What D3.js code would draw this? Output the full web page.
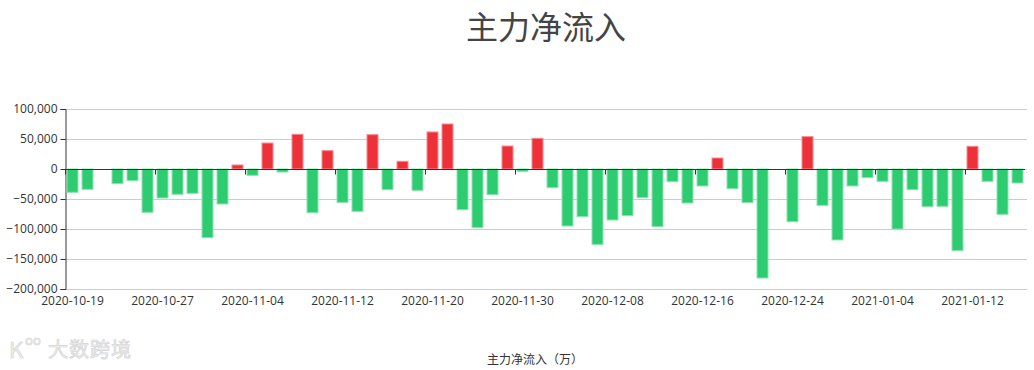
<!DOCTYPE html>
<html><head><meta charset="utf-8">
<script src="https://cdn.jsdelivr.net/npm/d3@7/dist/d3.min.js"></script>
<style>
html,body{margin:0;padding:0;background:#fff;}
svg{display:block;}
</style></head>
<body>
<svg id="chart" width="1034" height="370"></svg>
<script>
const title = "主力净流入";
const axisName = "主力净流入（万）";
const dates = [
"2020-10-19","2020-10-20","2020-10-21","2020-10-22","2020-10-23",
"2020-10-26","2020-10-27","2020-10-28","2020-10-29","2020-10-30",
"2020-11-02","2020-11-03","2020-11-04","2020-11-05","2020-11-06",
"2020-11-09","2020-11-10","2020-11-11","2020-11-12","2020-11-13",
"2020-11-16","2020-11-17","2020-11-18","2020-11-19","2020-11-20",
"2020-11-23","2020-11-24","2020-11-25","2020-11-26","2020-11-27",
"2020-11-30","2020-12-01","2020-12-02","2020-12-03","2020-12-04",
"2020-12-07","2020-12-08","2020-12-09","2020-12-10","2020-12-11",
"2020-12-14","2020-12-15","2020-12-16","2020-12-17","2020-12-18",
"2020-12-21","2020-12-22","2020-12-23","2020-12-24","2020-12-25",
"2020-12-28","2020-12-29","2020-12-30","2020-12-31",
"2021-01-04","2021-01-05","2021-01-06","2021-01-07","2021-01-08",
"2021-01-11","2021-01-12","2021-01-13","2021-01-14","2021-01-15"
];
const values = [
-38900,-33900,0,-24400,-19400,
-72200,-48300,-42200,-40600,-114400,
-58300,6700,-10600,43300,-5000,
57800,-72800,30600,-55600,-70600,
57200,-34400,12800,-35600,61700,
75000,-67800,-97800,-42800,38300,
-3900,51100,-31100,-95000,-79400,
-125600,-85000,-77800,-47800,-96100,
-21100,-56700,-28300,18300,-32800,
-56100,-181700,0,-87800,53900,
-60600,-118300,-28300,-14400,
-20600,-100000,-34400,-62800,-62200,
-136100,37800,-20600,-75600,-23300
];
const yTicks = [100000,50000,0,-50000,-100000,-150000,-200000];
const labelEvery = 6;

const svg = d3.select("#chart");
const pLeft = 65, pRight = 1025, pTop = 109, pBottom = 289;

const x = d3.scaleBand().domain(dates).range([pLeft, pRight]).paddingInner(0.2).paddingOuter(0.1);
const xb = d3.scaleBand().domain(dates).range([pLeft, pRight]);
const y = d3.scaleLinear().domain([-200000, 100000]).range([pBottom, pTop]);

// grid
svg.append("g").selectAll("line").data(yTicks).join("line")
  .attr("x1", pLeft).attr("x2", pRight + 2)
  .attr("y1", d => Math.round(y(d)) + 0.5).attr("y2", d => Math.round(y(d)) + 0.5)
  .attr("stroke", "#ccc").attr("stroke-width", 1);

// y axis
const yAxis = svg.append("g").attr("transform", `translate(${pLeft + 0.5},0)`)
  .call(d3.axisLeft(y).tickValues(yTicks).tickSize(5).tickFormat(d3.format(",")));
yAxis.select(".domain").attr("stroke", "#333");
yAxis.selectAll(".tick line").attr("stroke", "#333");
yAxis.selectAll("text").attr("fill", "#333").attr("font-size", 12)
  .attr("font-family", "'Open Sans','Noto Sans',sans-serif").attr("x", -8);

// bars
svg.append("g").selectAll("rect").data(dates.map((d, i) => ({d, v: values[i]}))).join("rect")
  .attr("x", d => x(d.d) + 0.5)
  .attr("width", x.bandwidth() - 1)
  .attr("y", d => d.v >= 0 ? y(d.v) : y(0))
  .attr("height", d => Math.abs(y(d.v) - y(0)))
  .attr("fill", d => d.v >= 0 ? "#ee3139" : "#2ecc71")
  .attr("stroke", d => d.v >= 0 ? "#f58a8f" : "#8be3b0")
  .attr("stroke-width", 1);

// x axis on zero
const xAxisG = svg.append("g").attr("transform", `translate(0,${Math.round(y(0)) + 0.5})`);
xAxisG.append("line").attr("x1", pLeft).attr("x2", pRight).attr("y1", 0).attr("y2", 0)
  .attr("stroke", "#333");
const tickIdx = d3.range(0, dates.length + 1, labelEvery);
xAxisG.selectAll("line.tk").data(tickIdx).join("line").attr("class", "tk")
  .attr("x1", i => Math.round(pLeft + i * xb.step()) + 0.5)
  .attr("x2", i => Math.round(pLeft + i * xb.step()) + 0.5)
  .attr("y1", 0).attr("y2", 5).attr("stroke", "#333");

// x labels at bottom
svg.append("g").selectAll("text").data(dates.filter((d, i) => i % labelEvery === 0)).join("text")
  .attr("x", d => xb(d) + xb.bandwidth() / 2)
  .attr("y", 305)
  .attr("text-anchor", "middle")
  .attr("font-size", 12)
  .attr("font-family", "'Open Sans','Noto Sans',sans-serif")
  .attr("fill", "#333")
  .text(d => d);

// title
svg.append("text").attr("x", 546).attr("y", 39).attr("text-anchor", "middle")
  .attr("font-size", 32).attr("fill", "#444")
  .attr("font-family", "'Noto Sans CJK SC',serif")
  .text(title);

// axis name
svg.append("text").attr("x", 535).attr("y", 364).attr("text-anchor", "middle")
  .attr("font-size", 12).attr("fill", "#333")
  .attr("font-family", "'Noto Sans CJK SC',sans-serif")
  .text(axisName);

// watermark
const wm = svg.append("g");
wm.append("text").attr("x", 9).attr("y", 358)
  .attr("font-size", 22).attr("font-family", "'Noto Sans CJK SC',sans-serif")
  .attr("fill", "#f0f0f0").attr("stroke", "#d4d4d4").attr("stroke-width", 0.7)
  .text("K");
wm.append("text").attr("x", 25).attr("y", 345)
  .attr("font-size", 13).attr("font-family", "'Noto Sans CJK SC',sans-serif")
  .attr("fill", "#f0f0f0").attr("stroke", "#d4d4d4").attr("stroke-width", 0.6)
  .text("oo");
wm.append("text").attr("x", 48).attr("y", 357)
  .attr("font-size", 20).attr("letter-spacing", 1).attr("font-family", "'Noto Sans CJK SC',sans-serif")
  .attr("fill", "#f0f0f0").attr("stroke", "#d4d4d4").attr("stroke-width", 0.7)
  .text("大数跨境");
</script>
</body></html>
